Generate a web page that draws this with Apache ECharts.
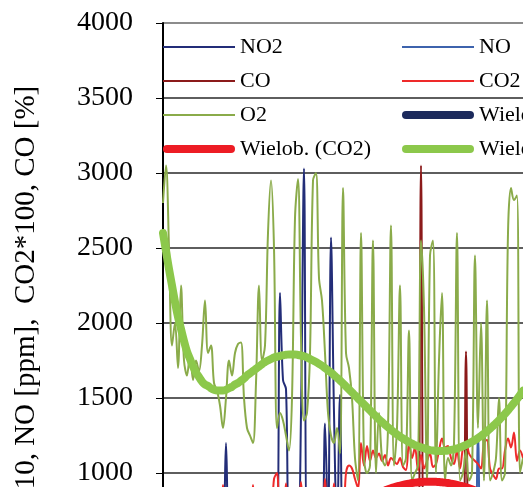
<!DOCTYPE html>
<html>
<head>
<meta charset="utf-8">
<script src="https://cdn.jsdelivr.net/npm/echarts@6/dist/echarts.min.js"></script>
<style>
  html, body { margin: 0; padding: 0; background: #fff; }
  #chart { width: 523px; height: 487px; }
</style>
</head>
<body>
<div id="chart"></div>
<script>
// measurement samples (only the visible part of the record)
var yTicks = [0, 500, 1000, 1500, 2000, 2500, 3000, 3500, 4000];

var no2 = [
  600, 600, 600, 600, 600, 600, 600, 600, 600, 600,
  600, 600, 600, 600, 600, 600, 600, 600, 600, 600,
  600, 1200, 600, 600, 600, 600, 600, 600, 600, 600,
  600, 600, 600, 600, 600, 600, 600, 600, 600, 2200,
  1620, 1560, 600, 600, 600, 600, 1400, 3030, 600, 600,
  600, 600, 600, 600, 1330, 600, 2570, 1400, 600, 1520,
  600, 600, 600, 600, 600, 600, 600, 600, 600, 600,
  600, 600, 600, 600, 600, 600, 600, 600, 600, 600,
  600, 600, 600, 600, 600, 600, 600, 600, 600, 600,
  600, 600, 600, 600, 600, 600, 600, 600, 600, 600,
  600, 600, 600, 600, 600, 600, 600, 600, 600, 600,
  600, 600, 600, 600, 600, 600, 600, 600, 600, 600,
  600
];
var no = [
  500, 500, 500, 500, 500, 500, 500, 500, 500, 500,
  500, 500, 500, 500, 500, 500, 500, 500, 500, 500,
  500, 500, 500, 500, 500, 500, 500, 500, 500, 500,
  500, 500, 500, 500, 500, 500, 500, 500, 500, 500,
  500, 500, 500, 500, 500, 500, 500, 500, 500, 500,
  500, 500, 500, 500, 500, 500, 500, 500, 500, 500,
  500, 500, 500, 500, 500, 500, 500, 500, 500, 500,
  500, 500, 500, 500, 500, 500, 500, 500, 500, 500,
  500, 500, 500, 500, 500, 500, 500, 500, 500, 500,
  500, 500, 500, 500, 500, 500, 500, 500, 500, 500,
  500, 500, 500, 500, 500, 1250, 500, 500, 500, 500,
  500, 500, 500, 500, 500, 500, 500, 500, 500, 500,
  500
];
var co = [
  400, 400, 400, 400, 400, 400, 400, 400, 400, 400,
  400, 400, 400, 400, 400, 400, 400, 400, 400, 400,
  400, 400, 400, 400, 400, 400, 400, 400, 400, 400,
  400, 400, 400, 400, 400, 400, 400, 400, 400, 400,
  400, 400, 400, 400, 400, 400, 400, 400, 400, 400,
  400, 400, 400, 400, 400, 400, 400, 400, 400, 400,
  400, 400, 400, 400, 400, 400, 400, 400, 400, 400,
  400, 400, 400, 400, 400, 400, 400, 400, 400, 400,
  400, 400, 400, 400, 400, 400, 3050, 400, 400, 400,
  400, 400, 400, 400, 400, 400, 400, 400, 400, 400,
  400, 1810, 400, 400, 400, 400, 400, 400, 400, 400,
  400, 400, 400, 400, 400, 400, 400, 400, 400, 400,
  400
];
var co2 = [
  700, 700, 700, 700, 700, 700, 700, 700, 700, 700,
  700, 700, 700, 700, 700, 700, 700, 700, 700, 700,
  920, 700, 700, 700, 700, 700, 700, 700, 700, 700,
  920, 700, 700, 700, 700, 700, 700, 960, 1000, 700,
  700, 930, 700, 700, 700, 700, 940, 700, 700, 700,
  700, 700, 700, 700, 960, 700, 700, 930, 700, 700,
  700, 1000, 1050, 1030, 960, 900, 1200, 1050, 1180, 1080,
  1150, 1100, 1130, 1080, 1120, 1050, 1100, 1080, 1060, 1100,
  1040, 1020, 1200, 1100, 1170, 1020, 1120, 1030, 1080, 1130,
  1040, 1060, 1150, 1230, 1170, 1180, 1100, 1060, 1150, 1030,
  1170, 1210, 1130, 1100, 1080, 1060, 1030, 1200, 1220, 1030,
  990, 960, 1030, 1030, 1150, 1230, 1170, 1270, 1080, 1150,
  1100
];
var o2 = [
  2800, 3050, 2500, 1850, 2000, 1700, 2250, 1750, 1650, 1800,
  1620, 1750, 1680, 1850, 2150, 1800, 1850, 1600, 1550, 1450,
  1300, 1500, 1750, 1650, 1800, 1860, 1870, 1500, 1300, 1250,
  1200, 1600, 2250, 1750, 1850, 2600, 2950, 2500, 1300, 1400,
  1350, 1250, 1150, 1500, 2700, 2960, 1900, 1350, 1400, 1800,
  2950, 3000, 2300, 2150, 1800, 1400, 1250, 1200, 1300, 1130,
  2900, 1800, 1700, 1500, 1100, 950, 2600, 1100, 1000, 1050,
  2550, 1000, 1400, 1100, 1050, 1300, 2650, 1050, 1300, 2250,
  1050, 1100, 1950, 950, 1000, 1050, 2550, 2100, 950, 2450,
  2550, 1000, 1750, 2200, 950, 1100, 1050, 1200, 2600, 950,
  1000, 1150, 950, 1000, 2450, 1300, 2000, 950, 2150, 950,
  1000, 1100, 1500, 950, 1000, 2600, 2900, 2820, 2850, 1000,
  1100
];
var trendNo2 = [
  120, 150, 180, 210, 240, 270, 300, 330, 360, 390,
  415, 440, 465, 490, 510, 530, 550, 570, 585, 600,
  615, 630, 645, 658, 670, 682, 693, 704, 714, 723,
  732, 740, 748, 755, 762, 768, 774, 779, 784, 788,
  792, 795, 798, 800, 802, 803, 804, 804, 804, 803,
  802, 800, 798, 795, 792, 788, 784, 779, 774, 768,
  762, 755, 748, 740, 732, 723, 714, 704, 693, 682,
  670, 658, 645, 632, 618, 604, 590, 575, 560, 545,
  530, 514, 498, 482, 466, 450, 434, 418, 402, 386,
  370, 354, 338, 322, 307, 292, 277, 262, 248, 234,
  220, 207, 194, 182, 170, 159, 148, 138, 128, 119,
  110, 102, 94, 87, 80, 74, 68, 63, 58, 54,
  50
];
var trendCo2 = [
  250, 255, 260, 262, 264, 265, 265, 264, 262, 260,
  258, 256, 254, 252, 250, 249, 248, 248, 249, 250,
  252, 254, 257, 260, 264, 268, 273, 278, 284, 290,
  296, 300, 304, 308, 311, 314, 316, 318, 320, 322,
  324, 349, 373, 397, 421, 444, 466, 488, 509, 530,
  550, 570, 590, 608, 627, 644, 662, 678, 695, 710,
  725, 740, 754, 768, 781, 794, 806, 817, 828, 839,
  849, 858, 867, 876, 884, 891, 898, 905, 911, 916,
  921, 925, 929, 933, 936, 938, 940, 941, 942, 942,
  942, 941, 940, 938, 936, 933, 929, 925, 921, 916,
  911, 905, 898, 891, 884, 876, 868, 859, 849, 839,
  828, 817, 806, 794, 781, 768, 754, 740, 725, 710,
  694
];
var trendO2 = [
  2600, 2480, 2360, 2250, 2140, 2040, 1960, 1880, 1810, 1760,
  1710, 1670, 1640, 1610, 1590, 1580, 1565, 1555, 1550, 1550,
  1550, 1555, 1565, 1575, 1590, 1600, 1615, 1630, 1650, 1665,
  1680, 1695, 1710, 1725, 1740, 1750, 1760, 1770, 1775, 1780,
  1785, 1788, 1790, 1790, 1790, 1787, 1783, 1778, 1770, 1760,
  1750, 1740, 1728, 1715, 1700, 1685, 1670, 1652, 1635, 1617,
  1598, 1578, 1558, 1538, 1518, 1497, 1477, 1457, 1437, 1417,
  1397, 1378, 1358, 1340, 1322, 1305, 1288, 1272, 1257, 1243,
  1230, 1218, 1206, 1196, 1186, 1178, 1172, 1165, 1158, 1153,
  1150, 1148, 1147, 1147, 1148, 1150, 1154, 1158, 1164, 1170,
  1178, 1187, 1197, 1208, 1220, 1233, 1247, 1262, 1278, 1295,
  1313, 1332, 1352, 1373, 1395, 1418, 1442, 1467, 1493, 1520,
  1548
];

var samples = [];
for (var i = 0; i < o2.length; i++) samples.push(i + 1);

var font = 'Liberation Serif';
var pill = 'path://M4,0H68A4,4 0 0 1 68,8H4A4,4 0 0 1 4,0Z';

function thin(name, data, color) {
  return {
    name: name, type: 'line', data: data, symbol: 'none', smooth: 0.35,
    lineStyle: { color: color, width: 2 }, itemStyle: { color: color }
  };
}
function thick(name, data, color) {
  return {
    name: name, type: 'line', data: data, symbol: 'none', smooth: true,
    lineStyle: { color: color, width: 8, cap: 'round' }, itemStyle: { color: color }
  };
}
// one legend per entry so the rows line up like the original table layout
function legendItem(name, col, row, heavy) {
  return {
    left: col == 0 ? 163 : 402,
    top: 36 + row * 34,
    itemWidth: 72,
    itemHeight: heavy ? 8 : 2,
    icon: heavy ? pill : 'rect',
    padding: 0,
    selectedMode: false,
    data: [name],
    textStyle: { fontFamily: font, fontSize: 22, color: '#000', lineHeight: 20 }
  };
}

var chart = echarts.init(document.getElementById('chart'));
var option = {
  animation: false,
  backgroundColor: '#fff',
  grid: { left: 163, right: 0, top: 23, bottom: -136, containLabel: false, outerBoundsMode: 'none' },
  legend: [
    legendItem('NO2', 0, 0, false),
    legendItem('NO', 1, 0, false),
    legendItem('CO', 0, 1, false),
    legendItem('CO2', 1, 1, false),
    legendItem('O2', 0, 2, false),
    legendItem('Wielob. (NO2)', 1, 2, true),
    legendItem('Wielob. (CO2)', 0, 3, true),
    legendItem('Wielob. (O2)', 1, 3, true)
  ],
  xAxis: {
    type: 'category',
    data: samples,
    boundaryGap: false,
    axisLine: { show: false },
    axisTick: { show: false },
    axisLabel: { show: false }
  },
  yAxis: {
    type: 'value',
    min: yTicks[0],
    max: yTicks[yTicks.length - 1],
    interval: 500,
    name: 'NO2*10, NO [ppm],  CO2*100, CO [%]',
    nameLocation: 'middle',
    nameGap: 122,
    nameTextStyle: { fontFamily: font, fontSize: 29, color: '#000' },
    axisLine: { show: true, lineStyle: { color: '#000', width: 2 } },
    axisTick: { show: true, inside: false, length: 7, lineStyle: { color: '#000', width: 1 } },
    axisLabel: {
      fontFamily: font, fontSize: 28, color: '#000', margin: 30,
      formatter: function (v) { return String(v); }
    },
    splitLine: {
      show: true,
      lineStyle: {
        color: ['#5e5e5e', '#5e5e5e', '#5e5e5e', '#5e5e5e', '#5e5e5e', '#5e5e5e', '#5e5e5e', '#5e5e5e', '#8c8c8c'],
        width: 2
      }
    }
  },
  series: [
    thin('NO2', no2, '#232d78'),
    thin('NO', no, '#3d63ad'),
    thin('CO', co, '#8b1a1a'),
    thin('CO2', co2, '#ee2a2a'),
    thin('O2', o2, '#8aab4a'),
    thick('Wielob. (NO2)', trendNo2, '#1c2a5c'),
    thick('Wielob. (CO2)', trendCo2, '#ed1c24'),
    thick('Wielob. (O2)', trendO2, '#8cc84b')
  ]
};
chart.setOption(option);
</script>
</body>
</html>
